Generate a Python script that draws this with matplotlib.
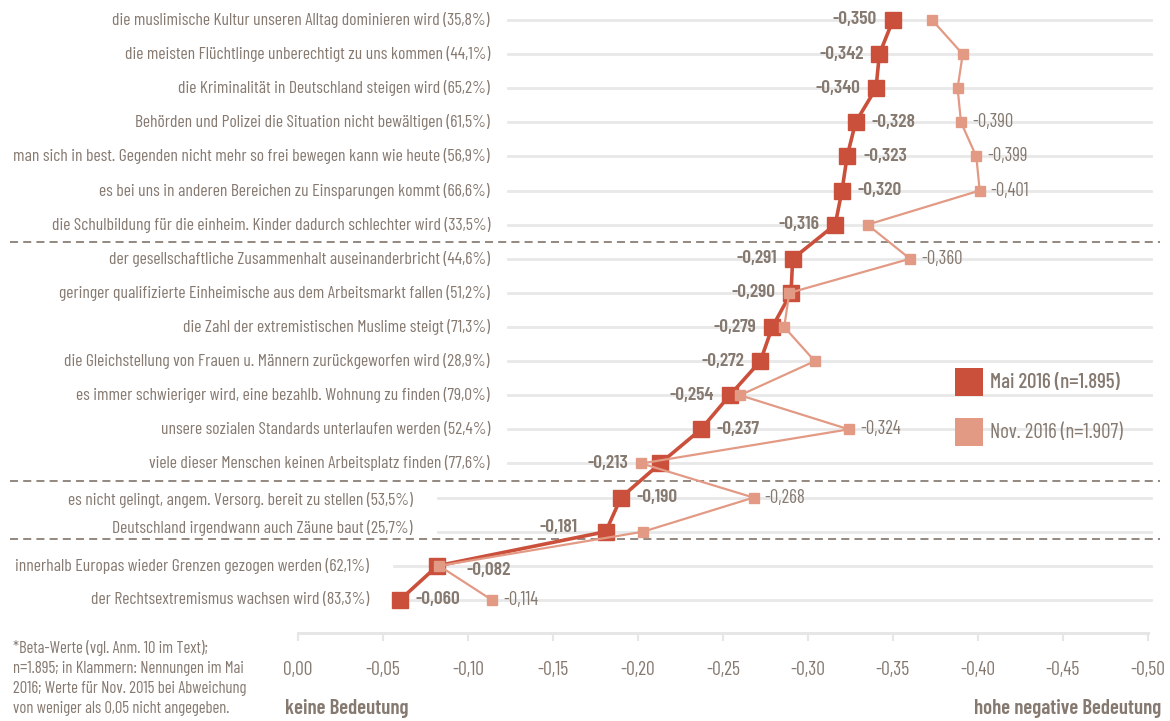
import matplotlib
matplotlib.use('Agg')
import matplotlib.pyplot as plt
import numpy as np
from matplotlib.patches import Rectangle

plt.rcParams['font.family'] = ['Barlow Condensed', 'DejaVu Sans']
plt.rcParams['lines.scale_dashes'] = False

labels = [
    'die muslimische Kultur unseren Alltag dominieren wird (35,8%)',
    'die meisten Flüchtlinge unberechtigt zu uns kommen (44,1%)',
    'die Kriminalität in Deutschland steigen wird (65,2%)',
    'Behörden und Polizei die Situation nicht bewältigen (61,5%)',
    'man sich in best. Gegenden nicht mehr so frei bewegen kann wie heute (56,9%)',
    'es bei uns in anderen Bereichen zu Einsparungen kommt (66,6%)',
    'die Schulbildung für die einheim. Kinder dadurch schlechter wird (33,5%)',
    'der gesellschaftliche Zusammenhalt auseinanderbricht (44,6%)',
    'geringer qualifizierte Einheimische aus dem Arbeitsmarkt fallen (51,2%)',
    'die Zahl der extremistischen Muslime steigt (71,3%)',
    'die Gleichstellung von Frauen u. Männern zurückgeworfen wird (28,9%)',
    'es immer schwieriger wird, eine bezahlb. Wohnung zu finden (79,0%)',
    'unsere sozialen Standards unterlaufen werden (52,4%)',
    'viele dieser Menschen keinen Arbeitsplatz finden (77,6%)',
    'es nicht gelingt, angem. Versorg. bereit zu stellen (53,5%)',
    'Deutschland irgendwann auch Zäune baut (25,7%)',
    'innerhalb Europas wieder Grenzen gezogen werden (62,1%)',
    'der Rechtsextremismus wachsen wird (83,3%)',
]
mai = [-0.350, -0.342, -0.340, -0.328, -0.323, -0.320, -0.316, -0.291, -0.290,
       -0.279, -0.272, -0.254, -0.237, -0.213, -0.190, -0.181, -0.082, -0.060]
nov = [-0.373, -0.391, -0.388, -0.390, -0.399, -0.401, -0.335, -0.360, -0.289,
       -0.286, -0.304, -0.260, -0.324, -0.202, -0.268, -0.203, -0.083, -0.114]
mai_name = 'Mai 2016 (n=1.895)'
nov_name = 'Nov. 2016 (n=1.907)'
xticks = [0.0, -0.05, -0.10, -0.15, -0.20, -0.25, -0.30, -0.35, -0.40, -0.45, -0.50]
footnote = ('*Beta-Werte (vgl. Anm. 10 im Text);\n'
            'n=1.895; in Klammern: Nennungen im Mai\n'
            '2016; Werte für Nov. 2015 bei Abweichung\n'
            'von weniger als 0,05 nicht angegeben.')

# which side of the Mai marker the value sits on
mai_side = ['l', 'l', 'l', 'r', 'r', 'r', 'l', 'l', 'l', 'l', 'l', 'l', 'r', 'l', 'r', 'l', 'r', 'r']
# a few labels pushed further away so they don't sit on the other series
nudge = {13: (-23, 0), 15: (-20, 3), 16: (21, -3.5)}

RED = '#cb503b'
SALMON = '#e39a85'
TXT = '#857970'
GRID = '#e8e8e8'

W, H = 1170, 721
fig = plt.figure(figsize=(W / 100, H / 100), dpi=100)
ax = fig.add_axes([298 / W, 88 / H, 850 / W, 633 / H])
ax.set_xlim(0, -0.5)
ax.set_ylim(17.97, -0.586)


def px2x(p):
    # pixel column -> data x
    return -(p - 298) / 1700


rows = np.arange(len(labels))
for r, lab in zip(rows, labels):
    dy = 0
    if r < 14:
        lab_end, grid_start = 490, 508
    elif r < 16:
        lab_end, grid_start = 413, 438
        dy = 0.08 if r == 14 else -0.12
    else:
        lab_end, grid_start = 369, 394
    ax.plot([px2x(grid_start), -0.502], [r, r], color=GRID, lw=2, zorder=0, clip_on=False)
    ax.text(px2x(lab_end), r + dy, lab, ha='right', va='center', color=TXT, fontsize=12.7)

for yy in [6.5, 13.5, 15.22]:
    ax.plot([px2x(10), px2x(1160)], [yy, yy], color='#8a7f76', lw=1.3,
            ls=(0, (5.8, 3.7)), clip_on=False, zorder=1)

ax.plot(mai, rows, color=RED, lw=2.6, marker='s', ms=11.5, zorder=3)
ax.plot(nov, rows, color=SALMON, lw=1.6, marker='s', ms=6.5, zorder=4)


def fmt(v):
    return '{:.3f}'.format(v).replace('.', ',')


for r, v, side in zip(rows, mai, mai_side):
    off = nudge.get(r, (-11.5 if side == 'l' else 11.5, 0))
    ax.annotate(fmt(v), (v, r), xytext=off, textcoords='offset points',
                ha='right' if side == 'l' else 'left', va='center',
                color=TXT, fontsize=14, fontweight=600, zorder=5)

for r, v, m in zip(rows, nov, mai):
    if abs(v - m) >= 0.05:
        ax.annotate(fmt(v), (v, r), xytext=(8, 0), textcoords='offset points',
                    ha='left', va='center', color=TXT, fontsize=13.5, zorder=5)

for s in ['top', 'left', 'right']:
    ax.spines[s].set_visible(False)
ax.spines['bottom'].set_color('#e6e6e6')
ax.spines['bottom'].set_linewidth(2.2)
ax.set_xticks(xticks)
ax.set_xticklabels(['{:.2f}'.format(abs(t) if t == 0 else t).replace('.', ',') for t in xticks])
ax.tick_params(axis='x', direction='out', length=6, width=1.5, color='#e6e6e6',
               labelcolor=TXT, labelsize=14, pad=14)
ax.tick_params(axis='y', left=False, labelleft=False)
ax.patch.set_visible(False)

fig.text(285 / W, 1 - 708 / H, 'keine Bedeutung', ha='left', va='center',
         color=TXT, fontsize=15, fontweight=600)
fig.text(1161 / W, 1 - 708 / H, 'hohe negative Bedeutung', ha='right', va='center',
         color=TXT, fontsize=15, fontweight=600)
fig.text(13 / W, 1 - 640 / H, footnote, ha='left', va='top', color=TXT,
         fontsize=12, linespacing=1.42)

# legend
for y0, col, name, wt in [(368, RED, mai_name, 500), (418, SALMON, nov_name, 'normal')]:
    fig.add_artist(Rectangle((955 / W, 1 - (y0 + 28) / H), 28 / W, 28 / H,
                             transform=fig.transFigure, color=col, lw=0))
    fig.text(990 / W, 1 - (y0 + 15) / H, name, ha='left', va='center',
             color=TXT, fontsize=15, fontweight=wt)

fig.savefig('out.png', dpi=100)
